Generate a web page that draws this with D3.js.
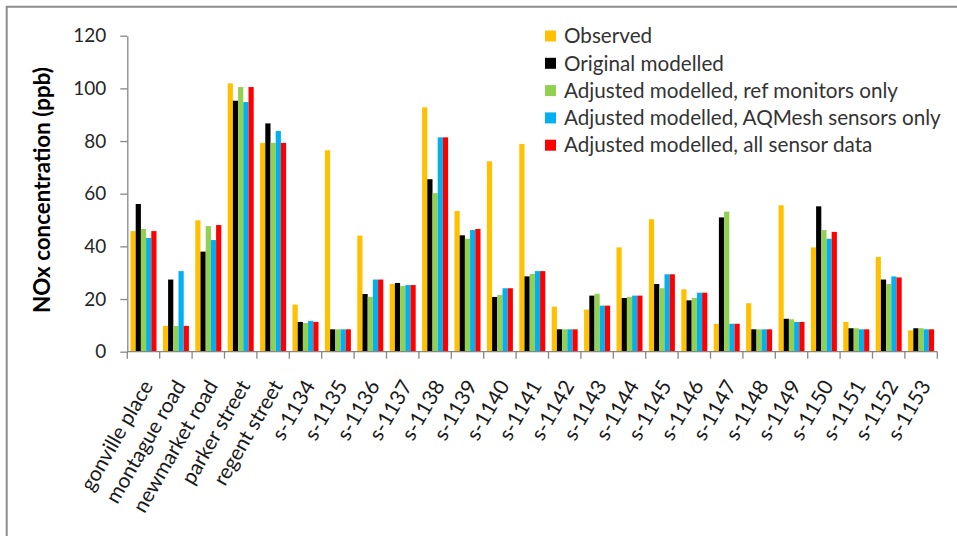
<!DOCTYPE html>
<html><head><meta charset="utf-8">
<script src="https://cdn.jsdelivr.net/npm/d3@7"></script>
<style>
body{margin:0;background:#fff}
svg{display:block}
text{font-family:Lato,'Open Sans',sans-serif}
</style>
</head><body>
<svg id="c" width="957" height="536"></svg>
<script>
const categories = ["gonville place","montague road","newmarket road","parker street","regent street",
  "s-1134","s-1135","s-1136","s-1137","s-1138","s-1139","s-1140","s-1141","s-1142","s-1143",
  "s-1144","s-1145","s-1146","s-1147","s-1148","s-1149","s-1150","s-1151","s-1152","s-1153"];
const seriesNames = ["Observed","Original modelled","Adjusted modelled, ref monitors only",
  "Adjusted modelled, AQMesh sensors only","Adjusted modelled, all sensor data"];
const observed  = [45.8, 9.8, 49.9, 101.9, 79.3, 17.9, 76.5, 44.1, 25.7, 92.8, 53.4, 72.3, 78.9, 17.1, 16.0, 39.6, 50.3, 23.7, 10.6, 18.4, 55.6, 39.6, 11.3, 36.0, 8.1];
const original  = [56.1, 27.4, 38.0, 95.3, 86.7, 11.3, 8.5, 21.9, 26.1, 65.5, 44.2, 20.8, 28.6, 8.5, 21.3, 20.4, 25.7, 19.5, 51.0, 8.5, 12.5, 55.2, 8.9, 27.4, 8.9];
const refOnly   = [46.6, 9.8, 47.7, 100.5, 79.3, 10.9, 8.5, 20.8, 24.9, 60.2, 42.9, 21.5, 29.5, 8.5, 22.0, 20.8, 24.1, 20.4, 53.2, 8.5, 12.3, 46.2, 8.9, 25.7, 8.9];
const aqmesh    = [43.2, 30.6, 42.4, 94.8, 83.8, 11.7, 8.5, 27.4, 25.3, 81.4, 46.2, 24.1, 30.6, 8.5, 17.5, 21.3, 29.4, 22.4, 10.6, 8.5, 11.3, 42.9, 8.5, 28.6, 8.5];
const allSensor = [45.8, 9.8, 48.1, 100.5, 79.3, 11.3, 8.5, 27.4, 25.3, 81.4, 46.6, 24.1, 30.6, 8.5, 17.5, 21.3, 29.4, 22.4, 10.6, 8.5, 11.3, 45.5, 8.5, 28.2, 8.5];
const yTicks = [0, 20, 40, 60, 80, 100, 120];
const yTitle = "NOx concentration (ppb)";
const colors = ["#FFC000","#000000","#92D050","#00B0F0","#FF0000"];

const seriesValues = [observed, original, refOnly, aqmesh, allSensor];
const svg = d3.select("#c");

// frame
svg.append("path").attr("d","M6.7,536V6.7H957").attr("fill","none").attr("stroke","#8c8c8c").attr("stroke-width",2);

const x = d3.scaleBand().domain(categories).range([127.3, 937.3]).paddingInner(0).paddingOuter(0);
const x1 = d3.scaleBand().domain(d3.range(seriesNames.length)).range([3.2, x.bandwidth()-3.2]).padding(0);
const y = d3.scaleLinear().domain([0,120]).range([351.7, 35.7]);

function fit(sel, target){
  let maxw = 0;
  sel.each(function(){ maxw = Math.max(maxw, this.getComputedTextLength()); });
  const fs = parseFloat(sel.attr("font-size"));
  sel.attr("font-size", fs*target/maxw);
}

// bars
const groups = svg.append("g").selectAll("g").data(categories).join("g")
  .attr("transform", d => `translate(${x(d)},0)`);
groups.selectAll("rect").data((d,i) => seriesValues.map((s,k) => ({k, v:s[i]}))).join("rect")
  .attr("x", d => x1(d.k)).attr("width", x1.bandwidth())
  .attr("y", d => y(d.v)).attr("height", d => y(0)-y(d.v))
  .attr("fill", d => colors[d.k]);

// y axis
const yAxis = svg.append("g").attr("transform","translate(127.3,0)")
  .call(d3.axisLeft(y).tickValues(yTicks).tickSize(7).tickSizeOuter(0).tickPadding(14));
yAxis.selectAll("path,line").attr("stroke","#868686").attr("stroke-width",1.3);
const yl = yAxis.selectAll("text").attr("font-size",20).attr("fill","#262626").attr("font-family","Lato,'Open Sans',sans-serif");
fit(yl, 33);

// x axis
svg.append("line").attr("x1",x.range()[0]).attr("x2",x.range()[1]).attr("y1",y(0)).attr("y2",y(0))
  .attr("stroke","#868686").attr("stroke-width",1.3);
svg.append("g").selectAll("line").data(categories.concat(["__end"])).join("line")
  .attr("x1", d => d==="__end" ? x.range()[1] : x(d)).attr("x2", d => d==="__end" ? x.range()[1] : x(d))
  .attr("y1", y(0)).attr("y2", y(0)+7).attr("stroke","#868686").attr("stroke-width",1.3);
const xl = svg.append("g").selectAll("text").data(categories).join("text")
  .attr("transform", d => `translate(${x(d)+x.bandwidth()/2+4},${382}) rotate(-60)`)
  .attr("text-anchor","end").attr("dy","0.35em").attr("font-size",20).attr("fill","#1a1a1a")
  .text(d => d);
fit(xl.filter(d => d==="regent street"), 117);
xl.attr("font-size", xl.filter(d => d==="regent street").attr("font-size"));

// y title
const yt = svg.append("text").attr("transform","translate(42,190) rotate(-90)")
  .attr("text-anchor","middle").attr("dy","0.35em").attr("font-weight","bold")
  .attr("font-size",20).attr("fill","#000").text(yTitle);
fit(yt, 246);

// legend
const lg = svg.append("g").selectAll("g").data(seriesNames).join("g")
  .attr("transform", (d,i) => `translate(545,${36 + i*27.3})`);
lg.append("rect").attr("x",0).attr("y",-5.5).attr("width",11).attr("height",11).attr("fill",(d,i)=>colors[i]);
const lt = lg.append("text").attr("x",19).attr("dy","0.35em").attr("font-size",20).attr("fill","#333").text(d=>d);
fit(lt, 377);
</script>
</body></html>
